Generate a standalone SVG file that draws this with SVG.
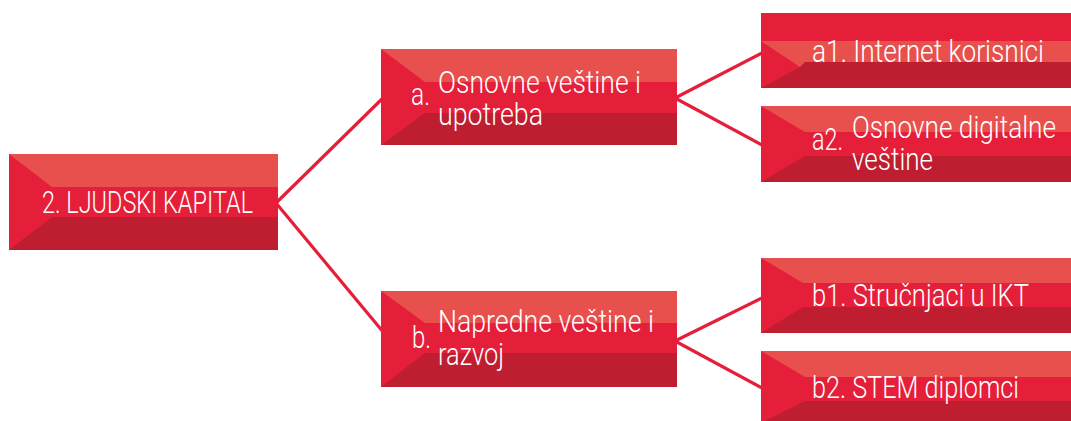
<svg xmlns="http://www.w3.org/2000/svg" width="1071" height="421" viewBox="0 0 1071 421">
<style>
.mid{fill:#E51F3A}
.lt{fill:#E8504D}
.dk{fill:#BF1D30}
.t{font-family:Roboto,"Liberation Sans",sans-serif;font-weight:300;font-size:32px;fill:#FFFFFF}
.c{stroke:#E51F3A;stroke-width:3.2;fill:none}
</style>
<rect width="1071" height="421" fill="#FFFFFF"/>
<g id="connectors">
<line class="c" x1="276" y1="203" x2="384" y2="97"/>
<line class="c" x1="276" y1="203" x2="384" y2="333"/>
<line class="c" x1="675" y1="98" x2="764" y2="52"/>
<line class="c" x1="675" y1="98" x2="764" y2="146"/>
<line class="c" x1="675" y1="341" x2="764" y2="297"/>
<line class="c" x1="675" y1="341" x2="764" y2="389"/>
</g>
<g id="node-main">
<rect class="mid" x="9" y="154" width="269" height="96"/>
<polygon class="lt" points="9,154 278,154 278,187 52,187"/>
<polygon class="dk" points="52,217 278,217 278,250 9,250"/>
<text class="t" x="42" y="213" textLength="211" lengthAdjust="spacingAndGlyphs">2. LJUDSKI KAPITAL</text>
</g>
<g id="node-a">
<rect class="mid" x="381" y="49" width="296" height="96"/>
<polygon class="lt" points="381,49 677,49 677,82 425,82"/>
<polygon class="dk" points="425,113 677,113 677,145 381,145"/>
<text class="t" x="411" y="105" textLength="19" lengthAdjust="spacingAndGlyphs">a.</text>
<text class="t" x="438" y="93" textLength="203" lengthAdjust="spacingAndGlyphs">Osnovne veštine i</text>
<text class="t" x="438" y="125" textLength="105" lengthAdjust="spacingAndGlyphs">upotreba</text>
</g>
<g id="node-b">
<rect class="mid" x="381" y="291" width="296" height="96"/>
<polygon class="lt" points="381,291 677,291 677,323 425,323"/>
<polygon class="dk" points="425,353 677,353 677,387 381,387"/>
<text class="t" x="412" y="348" textLength="19" lengthAdjust="spacingAndGlyphs">b.</text>
<text class="t" x="438" y="332" textLength="216" lengthAdjust="spacingAndGlyphs">Napredne veštine i</text>
<text class="t" x="438" y="365" textLength="66" lengthAdjust="spacingAndGlyphs">razvoj</text>
</g>
<g id="node-a1">
<rect class="mid" x="761" y="13" width="310" height="75"/>
<polygon class="lt" points="761,41 1071,41 1071,62 805,62 800,67"/>
<polygon class="dk" points="800,67 805,62 1071,62 1071,88 761,88"/>
<text class="t" x="812" y="62" textLength="232" lengthAdjust="spacingAndGlyphs">a1. Internet korisnici</text>
</g>
<g id="node-a2">
<rect class="mid" x="761" y="106" width="310" height="76"/>
<polygon class="lt" points="761,106 1071,106 1071,132 805,132"/>
<polygon class="dk" points="805,156 1071,156 1071,182 761,182"/>
<text class="t" x="812" y="150" textLength="31" lengthAdjust="spacingAndGlyphs">a2.</text>
<text class="t" x="852" y="138" textLength="204" lengthAdjust="spacingAndGlyphs">Osnovne digitalne</text>
<text class="t" x="852" y="170" textLength="81" lengthAdjust="spacingAndGlyphs">veštine</text>
</g>
<g id="node-b1">
<rect class="mid" x="761" y="258" width="310" height="75"/>
<polygon class="lt" points="761,258 1071,258 1071,283 803,283"/>
<polygon class="dk" points="803,307 1071,307 1071,333 761,333"/>
<text class="t" x="812" y="306" textLength="217" lengthAdjust="spacingAndGlyphs">b1. Stručnjaci u IKT</text>
</g>
<g id="node-b2">
<rect class="mid" x="761" y="351" width="310" height="72"/>
<polygon class="lt" points="761,351 1071,351 1071,377 805,377"/>
<polygon class="dk" points="805,401 1071,401 1071,423 761,423"/>
<text class="t" x="812" y="398" textLength="207" lengthAdjust="spacingAndGlyphs">b2. STEM diplomci</text>
</g>
</svg>
